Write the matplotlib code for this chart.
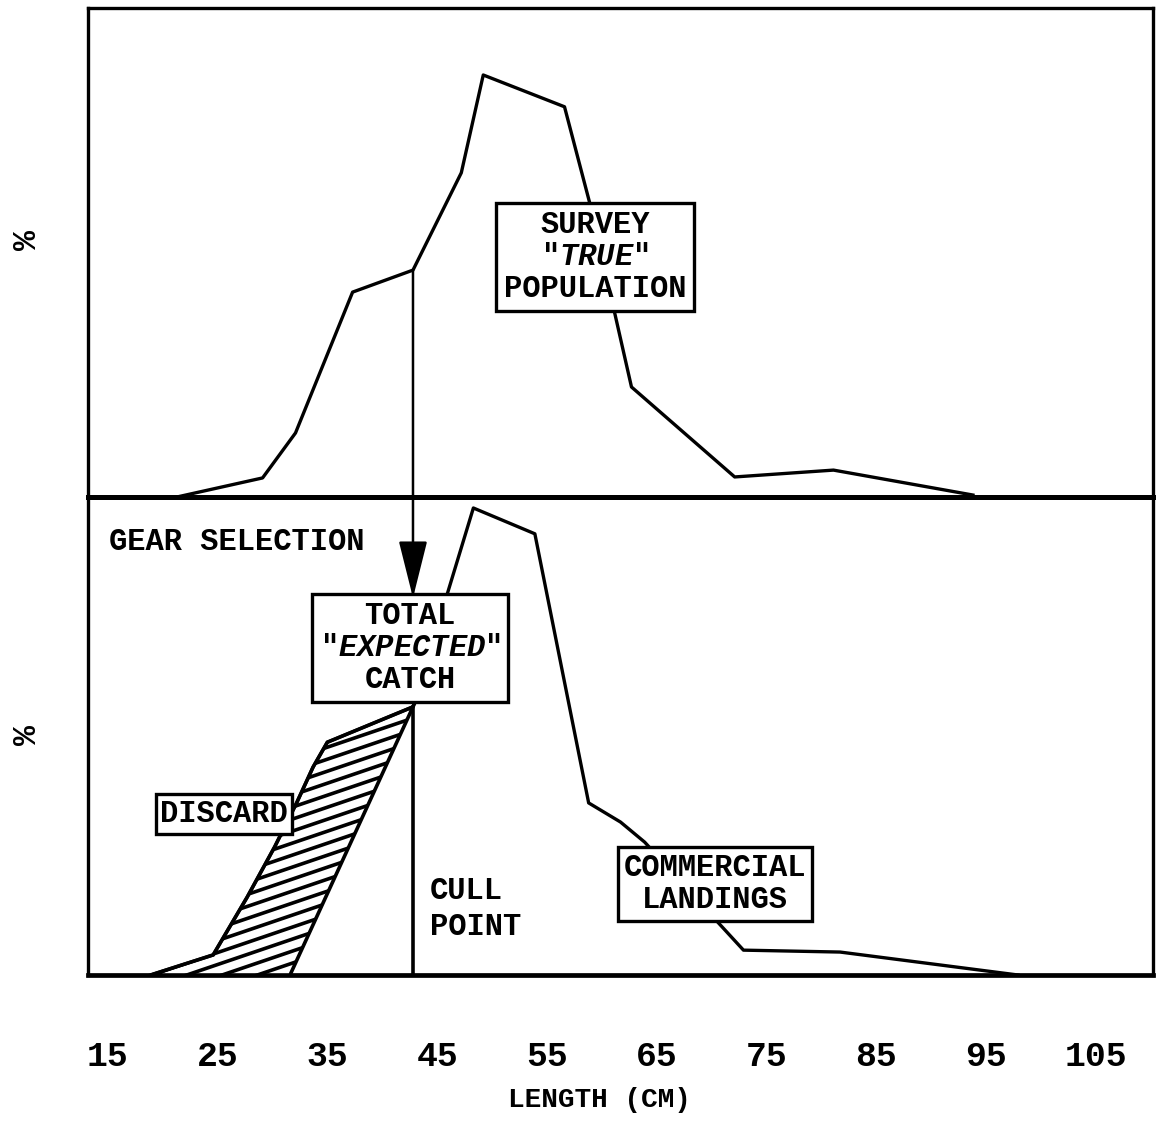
import numpy as np
import matplotlib
matplotlib.use("Agg")
import matplotlib.pyplot as plt
from matplotlib.patches import ConnectionPatch

plt.rcParams['font.family'] = ['Liberation Mono', 'DejaVu Sans']
plt.rcParams['font.weight'] = 'bold'
plt.rcParams['mathtext.fontset'] = 'custom'
plt.rcParams['mathtext.it'] = 'Liberation Mono:italic:bold'
plt.rcParams['mathtext.rm'] = 'Liberation Mono:bold'

# --- data (length in cm, percent of panel height) ---
survey_length = [21.3, 29.1, 32.1, 37.3, 42.8, 47.2, 49.2, 56.6, 58.9, 62.7, 72.1, 81.1, 93.8]
survey_pct = [0.0, 3.9, 13.1, 41.9, 46.4, 66.3, 86.3, 79.8, 60.1, 22.5, 4.1, 5.5, 0.4]

catch_length = [18.9, 24.6, 27.7, 30.2, 32.2, 33.7, 35.0, 42.8, 48.3, 53.9, 58.8,
                61.7, 63.9, 70.3, 72.9, 81.7, 97.9]
catch_pct = [0.0, 4.2, 16.3, 26.8, 36.0, 43.5, 48.7, 56.1, 97.7, 92.3, 36.0,
             32.0, 27.8, 11.7, 5.2, 4.8, 0.0]

cull_point = 42.8
discard_edge_length = [42.8, 31.6]   # inner edge of discard wedge
discard_edge_pct = [56.1, 0.0]

tick_values = [15, 25, 35, 45, 55, 65, 75, 85, 95, 105]

W, H = 1156, 1127
fig = plt.figure(figsize=(W / 100, H / 100), dpi=100)

def fx(px):
    return px / W

def fy(py):
    return 1 - py / H

left, right = 88, 1153
ax1 = fig.add_axes([fx(left), fy(497), (right - left) / W, (497 - 8) / H])
ax2 = fig.add_axes([fx(left), fy(975), (right - left) / W, (975 - 497) / H])

for ax in (ax1, ax2):
    ax.set_xlim(13.2, 110.2)
    ax.set_ylim(0, 100)
    ax.set_yticks([])
    ax.patch.set_visible(False)
    for s in ax.spines.values():
        s.set_linewidth(2.4)
ax1.set_xticks([])
ax1.spines['bottom'].set_linewidth(3.6)
ax2.spines['top'].set_visible(False)
ax2.spines['bottom'].set_linewidth(3.4)

# upper panel: survey population
ax1.plot(survey_length, survey_pct, color='black', lw=2.4)

# lower panel: total catch / landings
ax2.plot(catch_length, catch_pct, color='black', lw=2.4, zorder=4)

# discard wedge (catch below cull point)
n_left = catch_length.index(cull_point) + 1
disc_x = catch_length[:n_left] + discard_edge_length[1:]
disc_y = catch_pct[:n_left] + discard_edge_pct[1:]
poly = ax2.fill(disc_x, disc_y, facecolor='white', edgecolor='black', lw=2.6, zorder=3)[0]

# hand-drawn style hatch, shallow slope
aw, ah = right - left, 975 - 497
k = 0.34 * aw / ah
for y0 in np.arange(-1.2, 1.0, 12.0 / ah):
    ln, = ax2.plot([0, 1], [y0, y0 + k], transform=ax2.transAxes,
                   color='black', lw=2.6, zorder=3)
    ln.set_clip_path(poly)

# cull point line
cull_pct = catch_pct[catch_length.index(cull_point)]
ax2.plot([cull_point, cull_point], [0, cull_pct], color='black', lw=2.6, zorder=4)

# gear selection arrow from survey curve down into lower panel
surv_at_cull = np.interp(cull_point, survey_length, survey_pct)
arrow = ConnectionPatch(xyA=(cull_point, surv_at_cull), coordsA=ax1.transData,
                        xyB=(cull_point, 78.9), coordsB=ax2.transData,
                        arrowstyle='-|>,head_length=1.2,head_width=0.3',
                        mutation_scale=30, lw=1.8, color='black', fc='black',
                        shrinkA=0, shrinkB=0, zorder=5)
fig.add_artist(arrow)

# x tick labels
ax2.set_xticks(tick_values)
ax2.set_xticklabels([str(t) for t in tick_values], fontsize=25, fontweight='bold')
ax2.tick_params(axis='x', length=0, pad=47)

box = dict(boxstyle='square,pad=0.25', facecolor='white', edgecolor='black', lw=2.4)
fs = 22

fig.text(fx(595), fy(257), 'SURVEY\n"$\\mathit{TRUE}$"\nPOPULATION', ha='center', va='center',
         fontsize=fs, linespacing=1.08, bbox=box, zorder=10)
fig.text(fx(410), fy(648), 'TOTAL\n"$\\mathit{EXPECTED}$"\nCATCH', ha='center', va='center',
         fontsize=fs, linespacing=1.08, bbox=box, zorder=10)
fig.text(fx(224), fy(814), 'DISCARD', ha='center', va='center',
         fontsize=fs, bbox=dict(box, boxstyle='square,pad=0.15'), zorder=10)
fig.text(fx(715), fy(884), 'COMMERCIAL\nLANDINGS', ha='center', va='center',
         fontsize=fs, linespacing=1.1, bbox=dict(box, boxstyle='square,pad=0.2'), zorder=10)
fig.text(fx(109), fy(542), 'GEAR SELECTION', ha='left', va='center', fontsize=fs)
fig.text(fx(430), fy(909), 'CULL\nPOINT', ha='left', va='center', fontsize=fs,
         linespacing=1.3, multialignment='left')

fig.text(fx(27), fy(240), '%', rotation=90, ha='center', va='center', fontsize=24)
fig.text(fx(27), fy(735), '%', rotation=90, ha='center', va='center', fontsize=24)

fig.text(fx(599), fy(1100), 'LENGTH (CM)', ha='center', va='center', fontsize=20)

fig.savefig('out.png', dpi=100)
